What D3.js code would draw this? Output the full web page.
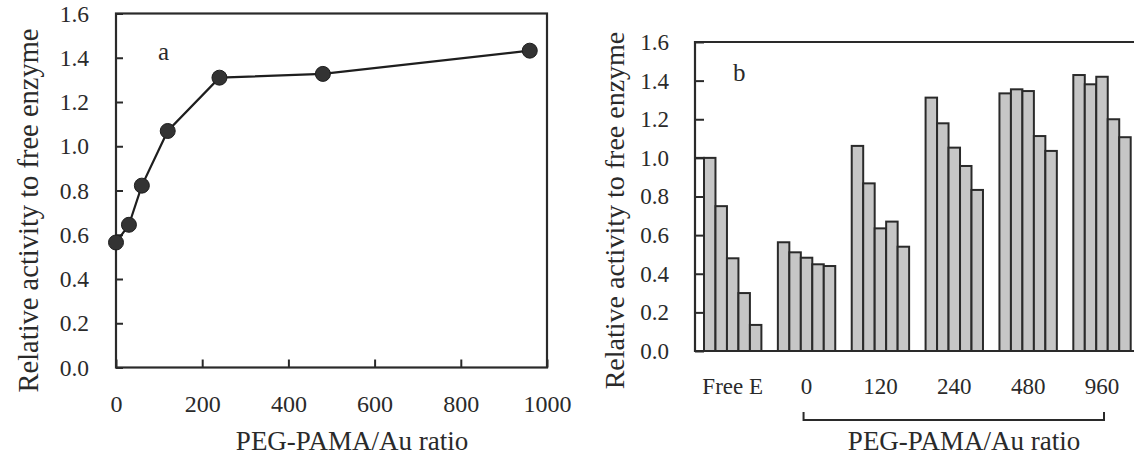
<!DOCTYPE html>
<html>
<head>
<meta charset="utf-8">
<script src="https://cdn.jsdelivr.net/npm/d3@7"></script>
<style>
  body { margin: 0; background: #fff; }
  text { font-family: "Liberation Serif", "DejaVu Serif", serif; fill: #2a2a2a; }
</style>
</head>
<body>
<svg id="chart"></svg>
<script>
const svg = d3.select('#chart');

//// Data
// panel a
const ratioValues = [0, 30, 60, 120, 240, 480, 960];
const activityValues = [0.565, 0.645, 0.822, 1.069, 1.31, 1.327, 1.432];
const xTicksA = [0, 200, 400, 600, 800, 1000];
// panel b
const groupLabels = ["Free E", "0", "120", "240", "480", "960"];
const freeE = [1.0, 0.75, 0.48, 0.30, 0.135];
const ratio0 = [0.563, 0.511, 0.483, 0.449, 0.44];
const ratio120 = [1.062, 0.868, 0.635, 0.67, 0.54];
const ratio240 = [1.312, 1.179, 1.053, 0.958, 0.834];
const ratio480 = [1.334, 1.355, 1.346, 1.113, 1.036];
const ratio960 = [1.429, 1.381, 1.42, 1.2, 1.107];
const freeReference = 1.0;
const yTicks = [0, 0.2, 0.4, 0.6, 0.8, 1.0, 1.2, 1.4, 1.6];
const yTitle = "Relative activity to free enzyme";
const xTitle = "PEG-PAMA/Au ratio";

////Global variables
const width = 1134;
const height = 457;
const ink = "#2a2a2a";

svg.attr("width", width).attr("height", height);

//// Panel a
const drawPanelA = () => {
  const left = 116, right = 547, top = 13.5, bottom = 367.5;
  const xScale = d3.scaleLinear().domain([0, 1000]).range([left, right]);
  const yScale = d3.scaleLinear().domain([0, 1.6]).range([bottom, top]);

  const g = svg.append("g").attr("id", "panel-a");

  g.append("rect")
    .attr("x", left).attr("y", top)
    .attr("width", right - left).attr("height", bottom - top)
    .attr("fill", "none").attr("stroke", ink).attr("stroke-width", 2.2);

  const yAxis = d3.axisLeft(yScale).tickValues(yTicks).tickFormat(d3.format(".1f"))
    .tickSize(-7).tickPadding(27);
  g.append("g").attr("transform", "translate(" + left + ",0)").call(yAxis)
    .call(a => a.select(".domain").remove())
    .call(a => a.selectAll("line").attr("stroke", ink).attr("stroke-width", 2))
    .call(a => a.selectAll("text").style("font-size", "23.5px").attr("fill", ink));

  const xAxis = d3.axisBottom(xScale).tickValues(xTicksA).tickFormat(d3.format("d"))
    .tickSize(-8).tickPadding(27);
  g.append("g").attr("transform", "translate(0," + bottom + ")").call(xAxis)
    .call(a => a.select(".domain").remove())
    .call(a => a.selectAll("line").attr("stroke", ink).attr("stroke-width", 2))
    .call(a => a.selectAll("text").style("font-size", "24px").attr("fill", ink));

  const points = ratioValues.map((r, i) => [r, activityValues[i]]);
  const line = d3.line().x(d => xScale(d[0])).y(d => yScale(d[1]));
  g.append("path").datum(points).attr("d", line)
    .attr("fill", "none").attr("stroke", "#1e1e1e").attr("stroke-width", 2.2);

  g.selectAll("circle").data(points).enter().append("circle")
    .attr("cx", d => xScale(d[0])).attr("cy", d => yScale(d[1]))
    .attr("r", 7.5).attr("fill", "#333").attr("stroke", "#1e1e1e").attr("stroke-width", 1);

  g.append("text").attr("x", 158).attr("y", 60).text("a").style("font-size", "25px");

  g.append("text")
    .attr("transform", "translate(38," + ((top + bottom) / 2 + 20) + ") rotate(-90)")
    .attr("text-anchor", "middle").style("font-size", "28.5px").text(yTitle);
  g.append("text").attr("x", 352).attr("y", 450)
    .attr("text-anchor", "middle").style("font-size", "27px").text(xTitle);
};

//// Panel b
const drawPanelB = () => {
  const left = 695, right = 1134, top = 42, bottom = 351;
  const groups = [freeE, ratio0, ratio120, ratio240, ratio480, ratio960];
  const yScale = d3.scaleLinear().domain([0, 1.6]).range([bottom, top]);
  const groupScale = d3.scaleBand().domain(groupLabels)
    .range([704, 1130.7]).paddingInner(0.223).paddingOuter(0).align(0);
  const barScale = d3.scaleBand().domain(d3.range(5)).range([0, groupScale.bandwidth()]);

  const g = svg.append("g").attr("id", "panel-b");

  g.append("clipPath").attr("id", "clip-b").append("rect")
    .attr("x", left).attr("y", 0).attr("width", right - left).attr("height", bottom);

  const bars = g.append("g").attr("clip-path", "url(#clip-b)");

  // white reference bar for free enzyme, partly behind the axis
  bars.append("rect")
    .attr("x", groupScale("Free E") - barScale.bandwidth())
    .attr("y", yScale(freeReference))
    .attr("width", barScale.bandwidth())
    .attr("height", yScale(0) - yScale(freeReference))
    .attr("fill", "#fff").attr("stroke", ink).attr("stroke-width", 2);

  const flat = [];
  groups.forEach((vals, gi) => vals.forEach((v, bi) => flat.push({ g: groupLabels[gi], i: bi, v: v })));

  bars.selectAll("rect.bar").data(flat).enter().append("rect")
    .attr("class", "bar")
    .attr("x", d => groupScale(d.g) + barScale(d.i))
    .attr("y", d => yScale(d.v))
    .attr("width", barScale.bandwidth())
    .attr("height", d => yScale(0) - yScale(d.v))
    .attr("fill", "#c6c6c6").attr("stroke", ink).attr("stroke-width", 2);

  // frame: left, top, bottom (open on the right)
  g.append("path")
    .attr("d", "M" + right + "," + top + "H" + left + "V" + bottom + "H" + right)
    .attr("fill", "none").attr("stroke", ink).attr("stroke-width", 2.2);

  const yAxis = d3.axisLeft(yScale).tickValues(yTicks).tickFormat(d3.format(".1f"))
    .tickSize(-9).tickPadding(26);
  g.append("g").attr("transform", "translate(" + left + ",0)").call(yAxis)
    .call(a => a.select(".domain").remove())
    .call(a => a.selectAll("line").attr("stroke", ink).attr("stroke-width", 2))
    .call(a => a.selectAll("text").style("font-size", "23px").attr("fill", ink));

  const xAxis = d3.axisBottom(groupScale).tickSize(0).tickPadding(27);
  g.append("g").attr("transform", "translate(0," + bottom + ")").call(xAxis)
    .call(a => a.select(".domain").remove())
    .call(a => a.selectAll("text").style("font-size", "23px").attr("fill", ink));

  // bracket under the PEG-PAMA/Au groups
  const bx0 = groupScale("0") + groupScale.bandwidth() / 2 - 3;
  const bx1 = groupScale("960") + groupScale.bandwidth() / 2 + 2;
  g.append("path")
    .attr("d", "M" + bx0 + ",412V420H" + bx1 + "V412")
    .attr("fill", "none").attr("stroke", ink).attr("stroke-width", 2);

  g.append("text").attr("x", 733).attr("y", 81).text("b").style("font-size", "25px");

  g.append("text")
    .attr("transform", "translate(624," + ((top + bottom) / 2 + 14) + ") rotate(-90)")
    .attr("text-anchor", "middle").style("font-size", "28px").text(yTitle);
  g.append("text").attr("x", 964).attr("y", 450)
    .attr("text-anchor", "middle").style("font-size", "27px").text(xTitle);
};

drawPanelA();
drawPanelB();
</script>
</body>
</html>
